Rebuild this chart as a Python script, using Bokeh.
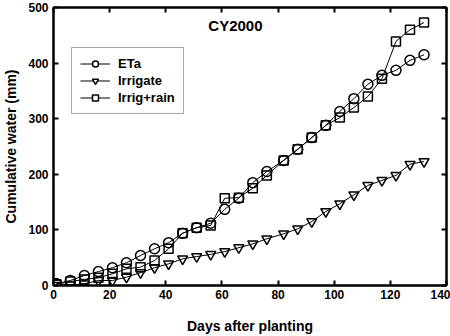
from bokeh.plotting import figure
from bokeh.models import LinearAxis, Label, Range1d, FixedTicker, Legend, LegendItem
from bokeh.embed import file_html
from bokeh.resources import INLINE

days = [1, 6, 11, 16, 21, 26, 31, 36, 41, 46, 51, 56, 61, 66, 71, 76,
        82, 87, 92, 97, 102, 107, 112, 117, 122, 127, 132]
eta = [3, 9, 18, 25, 32, 41, 54, 66, 77, 94, 104, 112, 137, 157, 185, 205,
       225, 245, 266, 288, 313, 336, 362, 378, 387, 405, 415]
irrigate = [0, 1, 3, 9, 9, 15, 23, 32, 39, 48, 52, 56, 61, 68, 75, 84,
            93, 102, 115, 133, 147, 163, 180, 189, 198, 218, 223]
irrig_rain = [2, 7, 11, 14, 21, 30, 33, 45, 66, 94, 104, 108, 157, 158, 175, 198,
              225, 245, 266, 288, 302, 320, 340, 372, 439, 460, 473]
x_ticks = [0, 20, 40, 60, 80, 100, 120, 140]
y_ticks = [0, 100, 200, 300, 400, 500]
title_text = "CY2000"
series_labels = ["ETa", "Irrigate", "Irrig+rain"]

FONT = "Liberation Sans"

p = figure(width=450, height=336, output_backend="svg", toolbar_location=None,
           x_range=Range1d(0, 140), y_range=Range1d(0, 500),
           min_border_left=5, min_border_right=4, min_border_top=7, min_border_bottom=5)
p.background_fill_color = "white"
p.border_fill_color = "white"
p.grid.visible = False
p.outline_line_color = "black"
p.outline_line_width = 2

def style_axis(ax, ticks, show_labels=True):
    ax.ticker = FixedTicker(ticks=ticks)
    ax.axis_line_width = 2
    ax.axis_line_color = "black"
    ax.major_tick_in = 5
    ax.major_tick_out = 0
    ax.major_tick_line_width = 2
    ax.minor_tick_line_color = None
    ax.major_label_text_font = FONT
    ax.major_label_text_font_style = "bold"
    ax.major_label_text_font_size = "12px"
    ax.major_label_text_color = "black"
    ax.axis_label_text_font = FONT
    ax.axis_label_text_font_style = "bold"
    ax.axis_label_text_font_size = "14px"
    ax.axis_label_text_color = "black"
    if not show_labels:
        ax.major_label_overrides = {t: "" for t in ticks}
        ax.major_label_standoff = 0

style_axis(p.xaxis[0], x_ticks)
style_axis(p.yaxis[0], y_ticks)
p.xaxis[0].axis_label = "Days after planting"
p.yaxis[0].axis_label = "Cumulative water (mm)"
p.xaxis[0].major_label_standoff = 4
p.yaxis[0].major_label_standoff = 5
p.xaxis[0].axis_label_standoff = 16
p.yaxis[0].axis_label_standoff = 6

top = LinearAxis()
style_axis(top, x_ticks, show_labels=False)
p.add_layout(top, "above")
right = LinearAxis()
style_axis(right, y_ticks, show_labels=False)
p.add_layout(right, "right")

# legend-look markers (white filled), drawn first under the data
e1 = p.scatter(days[:1], eta[:1], marker="circle", size=10, fill_color="white",
               line_color="black", line_width=1.5)
e2 = p.scatter(days[:1], irrigate[:1], marker="inverted_triangle", size=10, fill_color="white",
               line_color="black", line_width=1.5)
e3 = p.scatter(days[:1], irrig_rain[:1], marker="square", size=9, fill_color="white",
               line_color="black", line_width=1.5)

l1 = p.line(days, eta, line_color="black", line_width=1)
s1 = p.scatter(days, eta, marker="circle", size=10, fill_color=None,
               line_color="black", line_width=1.5)
l2 = p.line(days, irrigate, line_color="black", line_width=1)
s2 = p.scatter(days, irrigate, marker="inverted_triangle", size=10, fill_color=None,
               line_color="black", line_width=1.5)
l3 = p.line(days, irrig_rain, line_color="black", line_width=1)
s3 = p.scatter(days, irrig_rain, marker="square", size=9, fill_color=None,
               line_color="black", line_width=1.5)

legend = Legend(items=[LegendItem(label=series_labels[0], renderers=[l1, e1]),
                       LegendItem(label=series_labels[1], renderers=[l2, e2]),
                       LegendItem(label=series_labels[2], renderers=[l3, e3])],
                location=(18, 171))
legend.label_text_font = FONT
legend.label_text_font_style = "bold"
legend.label_text_font_size = "13px"
legend.label_text_color = "black"
legend.glyph_width = 30
legend.glyph_height = 15
legend.label_height = 15
legend.spacing = 2
legend.padding = 8
legend.margin = 0
legend.label_standoff = 8
legend.border_line_color = "#555555"
legend.border_line_width = 1
legend.background_fill_alpha = 1
p.add_layout(legend, "center")

p.add_layout(Label(x=64.8, y=467, text=title_text, text_align="center", text_baseline="middle",
                   text_font=FONT, text_font_style="bold", text_font_size="15px",
                   text_color="black"))

open("out.html", "w").write(file_html(p, INLINE))
